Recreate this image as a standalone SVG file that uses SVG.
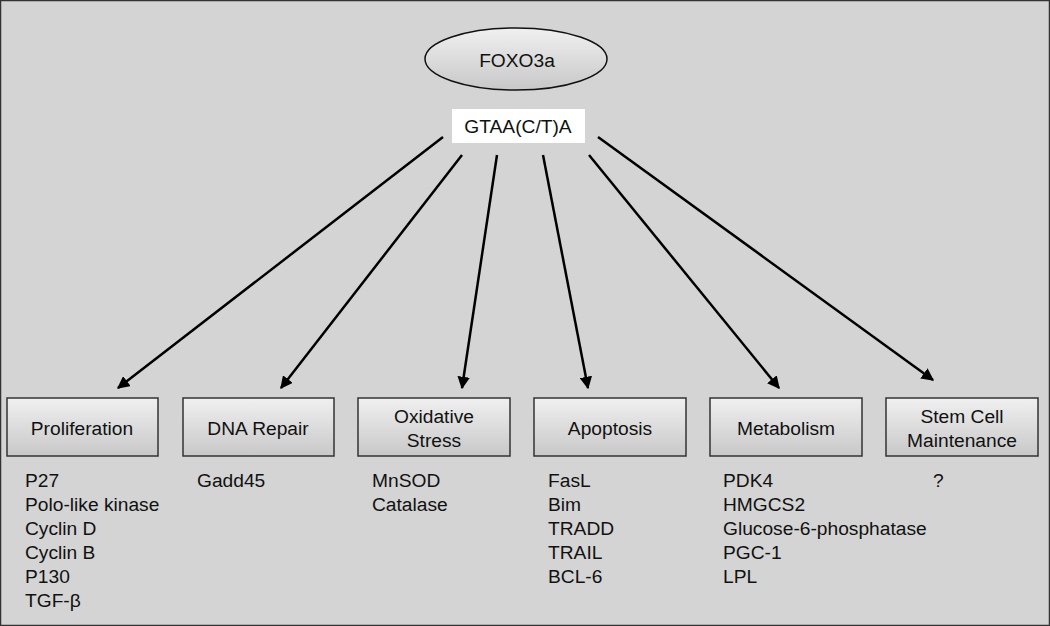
<svg xmlns="http://www.w3.org/2000/svg" width="1050" height="626" viewBox="0 0 1050 626">
<style>
text{font-family:"Liberation Sans",Arial,sans-serif;font-size:19.2px;fill:#111}
.c{text-anchor:middle}
.box{fill:url(#g);stroke:#333;stroke-width:1.5}
.ln{stroke:#000;stroke-width:2.5;fill:none;marker-end:url(#ah)}
</style>
<defs>
<linearGradient id="g" x1="0" y1="0" x2="0" y2="1">
<stop offset="0" stop-color="#f0f0f0"/>
<stop offset="1" stop-color="#c8c8c8"/>
</linearGradient>
<marker id="ah" viewBox="0 0 10 10" refX="9" refY="5" markerWidth="5" markerHeight="5" orient="auto" markerUnits="strokeWidth">
<path d="M0,0 L10,5 L0,10 z" fill="#000"/>
</marker>
</defs>
<rect x="0.5" y="0.5" width="1049" height="625" fill="#d4d4d4" stroke="#333" stroke-width="1.5"/>
<g id="foxo3a"><ellipse cx="516" cy="59" rx="91" ry="31" fill="url(#g)" stroke="#111" stroke-width="1.5"/><text class="c" x="517" y="67">FOXO3a</text></g>
<g id="gtaa"><rect x="452" y="109" width="133" height="34" fill="#fff"/><text class="c" x="518" y="133">GTAA(C/T)A</text></g>
<g id="connectors">
<line class="ln" x1="443" y1="137" x2="118" y2="388"/>
<line class="ln" x1="462" y1="155" x2="281" y2="388"/>
<line class="ln" x1="497" y1="155" x2="462" y2="388"/>
<line class="ln" x1="543" y1="155" x2="588" y2="388"/>
<line class="ln" x1="589" y1="155" x2="779" y2="388"/>
<line class="ln" x1="598" y1="137" x2="933" y2="380"/>
</g>
<g id="proliferation"><rect class="box" x="7" y="398" width="151" height="58"/><text class="c" x="82" y="435">Proliferation</text>
<text x="25" y="487">P27</text><text x="25" y="511">Polo-like kinase</text><text x="25" y="535">Cyclin D</text><text x="25" y="559">Cyclin B</text><text x="25" y="583">P130</text><text x="25" y="607">TGF-β</text></g>
<g id="dnarepair"><rect class="box" x="183" y="398" width="151" height="58"/><text class="c" x="258" y="435">DNA Repair</text>
<text x="197" y="487">Gadd45</text></g>
<g id="oxidative"><rect class="box" x="358" y="398" width="152" height="58"/><text class="c" x="434" y="423">Oxidative</text><text class="c" x="434" y="447">Stress</text>
<text x="372" y="487">MnSOD</text><text x="372" y="511">Catalase</text></g>
<g id="apoptosis"><rect class="box" x="534" y="398" width="152" height="58"/><text class="c" x="610" y="435">Apoptosis</text>
<text x="548" y="487">FasL</text><text x="548" y="511">Bim</text><text x="548" y="535">TRADD</text><text x="548" y="559">TRAIL</text><text x="548" y="583">BCL-6</text></g>
<g id="metabolism"><rect class="box" x="710" y="398" width="152" height="58"/><text class="c" x="786" y="435">Metabolism</text>
<text x="723" y="487">PDK4</text><text x="723" y="511">HMGCS2</text><text x="723" y="535">Glucose-6-phosphatase</text><text x="723" y="559">PGC-1</text><text x="723" y="583">LPL</text></g>
<g id="stemcell"><rect class="box" x="886" y="398" width="152" height="58"/><text class="c" x="962" y="423">Stem Cell</text><text class="c" x="962" y="447">Maintenance</text>
<text x="933" y="487">?</text></g>
</svg>
